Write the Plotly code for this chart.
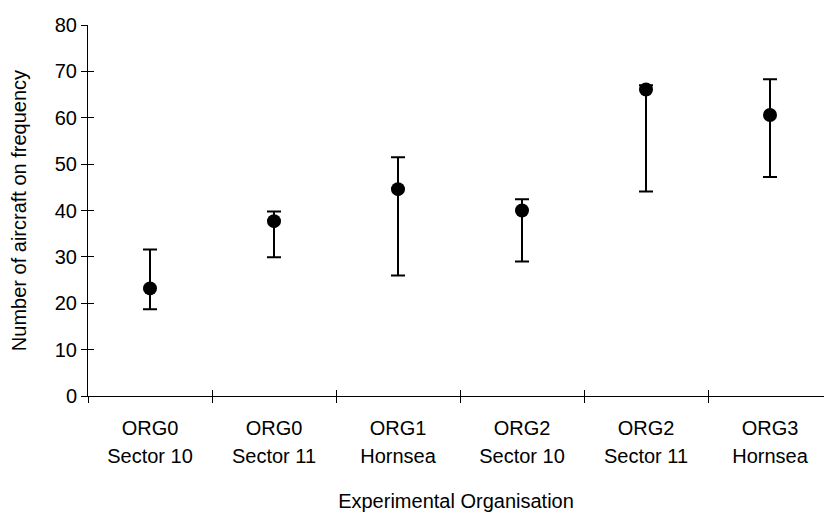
import plotly.graph_objects as go

# Experimental organisations (two-line category labels)
org_names = ["ORG0", "ORG0", "ORG1", "ORG2", "ORG2", "ORG3"]
sector_names = ["Sector 10", "Sector 11", "Hornsea", "Sector 10", "Sector 11", "Hornsea"]

# Mean number of aircraft on frequency, with observed maximum and minimum
mean_aircraft = [23.2, 37.7, 44.6, 40.0, 66.1, 60.6]
max_aircraft = [31.6, 39.8, 51.5, 42.4, 67.0, 68.3]
min_aircraft = [18.7, 29.9, 26.0, 29.0, 44.1, 47.2]

y_ticks = [0, 10, 20, 30, 40, 50, 60, 70, 80]

positions = list(range(len(org_names)))
boundaries = [p - 0.5 for p in positions]
err_plus = [hi - m for hi, m in zip(max_aircraft, mean_aircraft)]
err_minus = [m - lo for lo, m in zip(min_aircraft, mean_aircraft)]

FONT = "Liberation Sans, Arial, sans-serif"
INK = "#000000"
x_range = [-0.5, -0.5 + (824 - 88) / 124]

fig = go.Figure()
fig.add_trace(go.Scatter(
    x=positions, y=mean_aircraft, mode="markers",
    marker=dict(color=INK, size=14),
    error_y=dict(type="data", symmetric=False, array=err_plus, arrayminus=err_minus,
                 color=INK, thickness=2, width=7),
    showlegend=False,
))

fig.update_layout(
    width=824, height=512,
    margin=dict(l=88, r=0, t=25, b=116),
    paper_bgcolor="white", plot_bgcolor="white",
    font=dict(family=FONT, size=20, color=INK),
    xaxis=dict(
        range=x_range, showgrid=False, zeroline=False,
        showline=True, linecolor=INK, linewidth=1,
        tickmode="array", tickvals=positions, ticktext=org_names,
        ticks="", ticklabelstandoff=14,
        title=dict(text="Experimental Organisation", font=dict(size=20), standoff=55),
    ),
    # second line of the category labels
    xaxis2=dict(
        overlaying="x", anchor="y", side="bottom", range=x_range,
        showgrid=False, zeroline=False, showline=False,
        tickmode="array", tickvals=positions, ticktext=sector_names,
        ticks="", ticklabelstandoff=46,
    ),
    # crossing tick marks at the category boundaries
    xaxis3=dict(
        overlaying="x", anchor="y", side="bottom", range=x_range,
        showgrid=False, zeroline=False, showline=False, showticklabels=False,
        tickmode="array", tickvals=boundaries,
        ticks="inside", ticklen=6, tickcolor=INK, tickwidth=1,
    ),
    xaxis4=dict(
        overlaying="x", anchor="y", side="bottom", range=x_range,
        showgrid=False, zeroline=False, showline=False, showticklabels=False,
        tickmode="array", tickvals=boundaries,
        ticks="outside", ticklen=6, tickcolor=INK, tickwidth=1,
    ),
    yaxis=dict(
        range=[0, 80], showgrid=False, zeroline=False,
        showline=True, linecolor=INK, linewidth=1,
        tickmode="array", tickvals=y_ticks,
        ticks="outside", ticklen=6, tickcolor=INK, tickwidth=1,
        title=dict(text="Number of aircraft on frequency", font=dict(size=20), standoff=22),
    ),
    yaxis2=dict(
        overlaying="y", anchor="x", side="left", range=[0, 80],
        showgrid=False, zeroline=False, showline=False, showticklabels=False,
        tickmode="array", tickvals=y_ticks,
        ticks="inside", ticklen=6, tickcolor=INK, tickwidth=1,
    ),
)

# invisible traces to activate the overlay axes
for xa, ya in [("x2", "y"), ("x3", "y"), ("x4", "y"), ("x", "y2")]:
    fig.add_trace(go.Scatter(x=[None], y=[None], xaxis=xa, yaxis=ya,
                             showlegend=False, hoverinfo="skip"))

fig.write_html("out.html")
